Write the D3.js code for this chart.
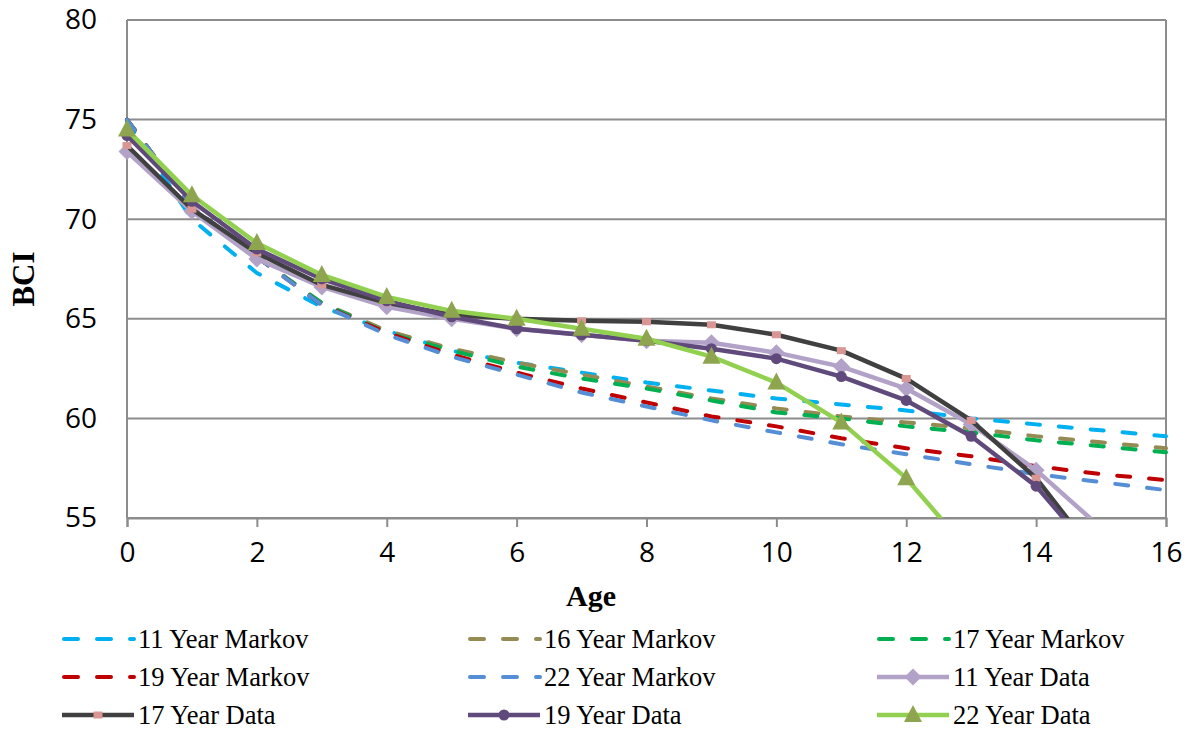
<!DOCTYPE html>
<html>
<head>
<meta charset="utf-8">
<script src="https://cdn.jsdelivr.net/npm/d3@7/dist/d3.min.js"></script>
<style>
  html, body { margin: 0; padding: 0; background: #fff; }
  svg { display: block; }
</style>
</head>
<body>
<svg id="chart" width="1190" height="729"></svg>
<script>
// ---- data ----
const ages = [0,1,2,3,4,5,6,7,8,9,10,11,12,13,14,15,16];
const xTicks = [0,2,4,6,8,10,12,14,16];
const yTicks = [55,60,65,70,75,80];

const markov11 = [74.9,70.0,67.3,65.6,64.4,63.4,62.8,62.3,61.8,61.4,61.0,60.7,60.4,60.0,59.7,59.4,59.1];
const markov16 = [75.0,70.6,68.1,65.8,64.4,63.5,62.8,62.2,61.6,61.0,60.5,60.1,59.8,59.5,59.1,58.8,58.5];
const markov17 = [75.0,70.6,68.1,65.8,64.3,63.4,62.6,62.0,61.5,60.9,60.3,60.0,59.6,59.3,58.9,58.6,58.3];
const markov19 = [75.0,70.6,68.1,65.7,64.3,63.2,62.3,61.5,60.8,60.1,59.6,59.0,58.5,58.1,57.6,57.2,56.9];
const markov22 = [75.0,70.6,68.1,65.7,64.2,63.1,62.2,61.3,60.6,59.9,59.3,58.7,58.2,57.7,57.2,56.8,56.4];

const data11 = [73.4,70.4,68.0,66.6,65.6,65.0,64.5,64.2,63.9,63.8,63.3,62.6,61.5,59.7,57.4,54.5];
const data17 = [73.7,70.5,68.3,66.7,65.8,65.2,65.0,64.9,64.85,64.7,64.2,63.4,62.0,59.9,57.0,52.8];
const data19 = [74.2,70.9,68.5,67.0,65.9,65.1,64.5,64.2,63.9,63.5,63.0,62.1,60.9,59.1,56.6,52.8];
const data22 = [74.5,71.2,68.8,67.2,66.1,65.4,65.0,64.5,64.0,63.1,61.8,59.8,57.0,53.2];

const seriesNames = ["11 Year Markov","16 Year Markov","17 Year Markov","19 Year Markov","22 Year Markov",
                     "11 Year Data","17 Year Data","19 Year Data","22 Year Data"];

// ---- styles ----
const series = [
  {name: seriesNames[0], values: markov11, color: "#00b0f0", dashed: true},
  {name: seriesNames[1], values: markov16, color: "#948a54", dashed: true},
  {name: seriesNames[2], values: markov17, color: "#00b050", dashed: true},
  {name: seriesNames[3], values: markov19, color: "#c00000", dashed: true},
  {name: seriesNames[4], values: markov22, color: "#558ed5", dashed: true},
  {name: seriesNames[5], values: data11, color: "#b3a2c7", marker: "diamond", mcolor: "#b3a2c7"},
  {name: seriesNames[6], values: data17, color: "#404040", marker: "square", mcolor: "#d99694"},
  {name: seriesNames[7], values: data19, color: "#604a7b", marker: "circle", mcolor: "#604a7b"},
  {name: seriesNames[8], values: data22, color: "#92d050", marker: "triangle", mcolor: "#8ea44f"}
];

const svg = d3.select("#chart");
const L = 127, R = 1166, T = 20, B = 518;
const x = d3.scaleLinear().domain([0,16]).range([L,R]);
const y = d3.scaleLinear().domain([55,80]).range([B,T]);
const gridColor = "#8c8c8c";

// gridlines
svg.append("g").selectAll("line").data(yTicks).join("line")
  .attr("x1", L).attr("x2", R)
  .attr("y1", d => y(d)).attr("y2", d => y(d))
  .attr("stroke", gridColor).attr("stroke-width", 2);

// plot border (left, right)
svg.append("line").attr("x1", L).attr("x2", L).attr("y1", T).attr("y2", B)
  .attr("stroke", gridColor).attr("stroke-width", 2);
svg.append("line").attr("x1", R).attr("x2", R).attr("y1", T).attr("y2", B)
  .attr("stroke", gridColor).attr("stroke-width", 2);

// x axis
const xAxis = d3.axisBottom(x).tickValues(xTicks).tickSize(9).tickPadding(15).tickFormat(d3.format("d"));
const gx = svg.append("g").attr("transform", `translate(0,${B})`).call(xAxis);
gx.select(".domain").attr("stroke", gridColor).attr("stroke-width", 2);
gx.selectAll(".tick line").attr("stroke", gridColor).attr("stroke-width", 2);
gx.selectAll(".tick text").attr("font-family", "'Open Sans', sans-serif").attr("font-size", 28).attr("fill", "#000");

// y axis labels
const yAxis = d3.axisLeft(y).tickValues(yTicks).tickSize(0).tickPadding(30);
const gy = svg.append("g").attr("transform", `translate(${L},0)`).call(yAxis);
gy.select(".domain").remove();
gy.selectAll(".tick text").attr("font-family", "'Open Sans', sans-serif").attr("font-size", 28).attr("fill", "#000");

// axis titles
svg.append("text").attr("x", 591).attr("y", 606).attr("text-anchor", "middle")
  .attr("font-family", "'Liberation Serif', 'Times New Roman', serif").attr("font-weight", "bold")
  .attr("font-size", 30).text("Age");
svg.append("text").attr("transform", `translate(34,279) rotate(-90)`).attr("text-anchor", "middle")
  .attr("font-family", "'Liberation Serif', 'Times New Roman', serif").attr("font-weight", "bold")
  .attr("font-size", 31).text("BCI");

// clip
svg.append("defs").append("clipPath").attr("id", "clip")
  .append("rect").attr("x", 0).attr("y", 0).attr("width", 1190).attr("height", B);

const plot = svg.append("g").attr("clip-path", "url(#clip)");
const line = d3.line().x((d,i) => x(ages[i])).y(d => y(d));

function drawMarker(g, type, cx, cy, color) {
  if (type === "diamond") {
    g.append("path").attr("d", `M${cx},${cy-8.5}L${cx+8.5},${cy}L${cx},${cy+8.5}L${cx-8.5},${cy}Z`).attr("fill", color);
  } else if (type === "square") {
    g.append("rect").attr("x", cx-4.5).attr("y", cy-3.5).attr("width", 9).attr("height", 7).attr("fill", color);
  } else if (type === "circle") {
    g.append("circle").attr("cx", cx).attr("cy", cy).attr("r", 5.5).attr("fill", color);
  } else if (type === "triangle") {
    g.append("path").attr("d", `M${cx},${cy-10}L${cx+9},${cy+7}L${cx-9},${cy+7}Z`).attr("fill", color);
  }
}

series.forEach(s => {
  const p = plot.append("path").datum(s.values).attr("d", line)
    .attr("fill", "none").attr("stroke", s.color)
    .attr("stroke-linejoin", "round");
  if (s.dashed) {
    p.attr("stroke-width", 4).attr("stroke-dasharray", "13 19").attr("stroke-linecap", "round");
  } else {
    p.attr("stroke-width", 4.5);
  }
  if (s.marker) {
    const mg = plot.append("g");
    s.values.forEach((v,i) => drawMarker(mg, s.marker, x(ages[i]), y(v), s.mcolor));
  }
});

// legend
const colX = [62, 468, 877];
const rowY = [639, 677, 715];
const leg = svg.append("g");
series.forEach((s, i) => {
  const cx0 = colX[i % 3], cy0 = rowY[Math.floor(i / 3)];
  const g = leg.append("g");
  if (s.dashed) {
    g.append("line").attr("x1", cx0+2).attr("x2", cx0+72).attr("y1", cy0).attr("y2", cy0)
      .attr("stroke", s.color).attr("stroke-width", 4).attr("stroke-linecap", "round")
      .attr("stroke-dasharray", "14 19");
  } else {
    g.append("line").attr("x1", cx0).attr("x2", cx0+72).attr("y1", cy0).attr("y2", cy0)
      .attr("stroke", s.color).attr("stroke-width", 4.5);
    drawMarker(g, s.marker, cx0+36, cy0, s.mcolor);
  }
  g.append("text").attr("x", cx0+76).attr("y", cy0).attr("dy", "0.35em")
    .attr("font-family", "'Liberation Serif', 'Times New Roman', serif")
    .attr("font-size", 26.5).attr("fill", "#000").text(s.name);
});
</script>
</body>
</html>
